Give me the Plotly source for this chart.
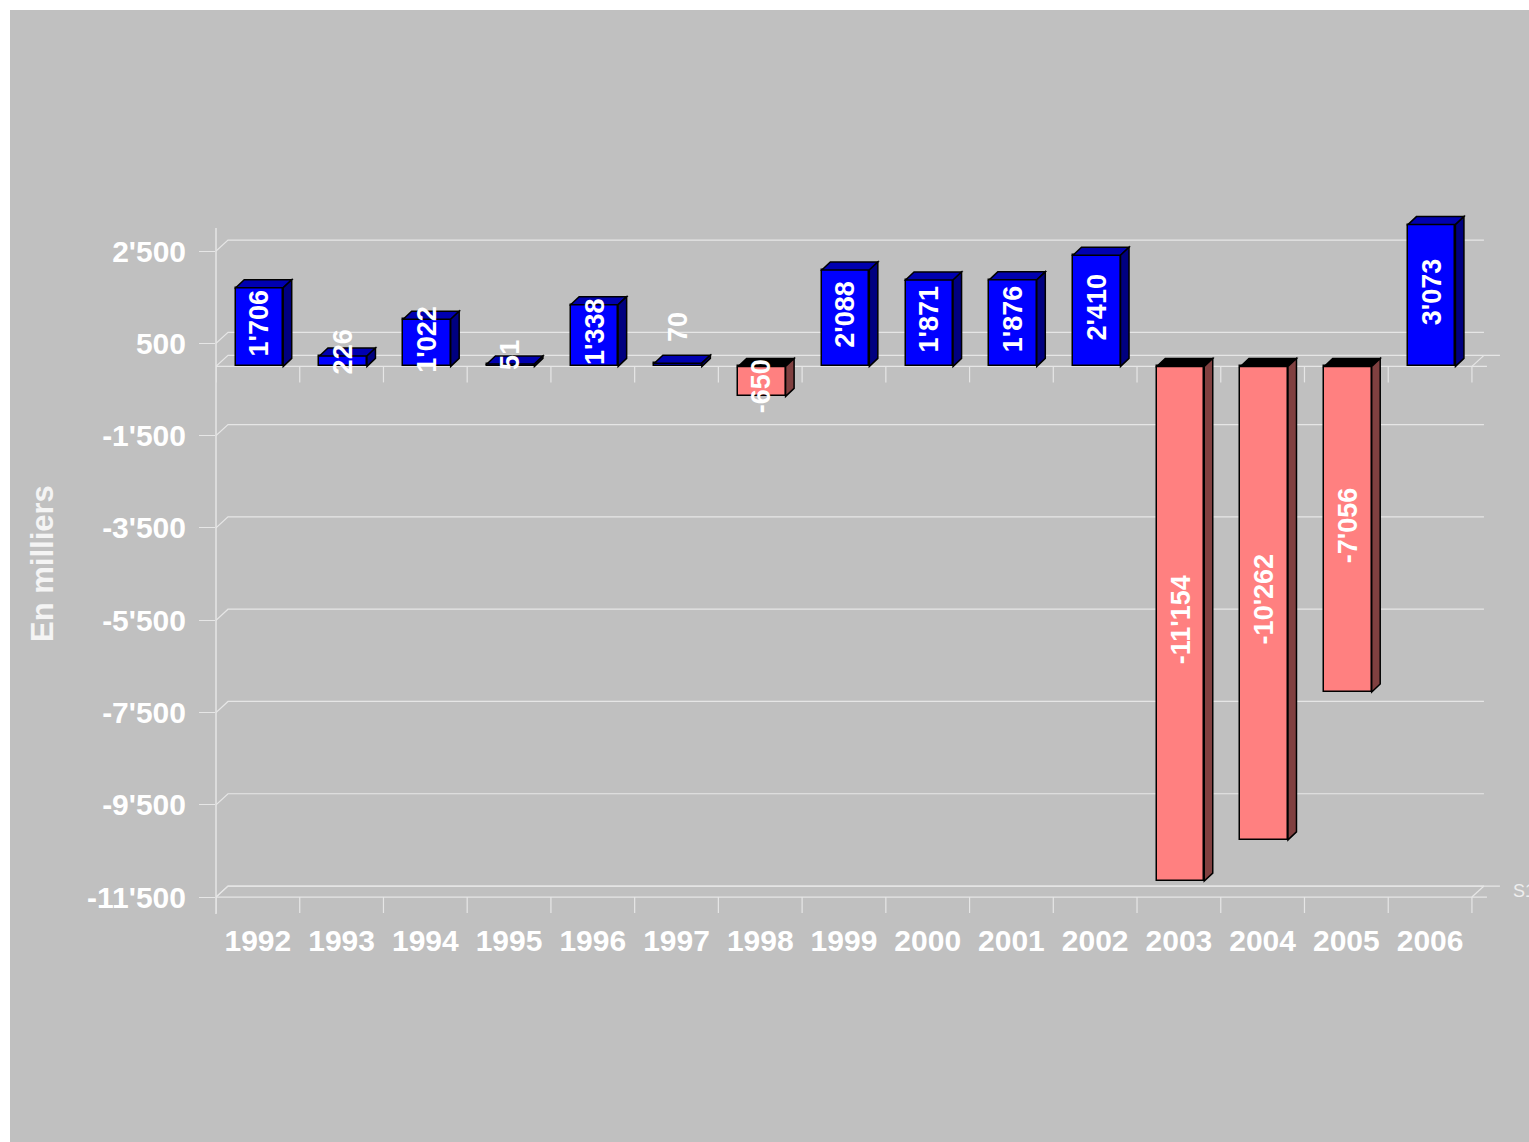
import plotly.graph_objects as go

# ---- data -------------------------------------------------------------
years = ["1992", "1993", "1994", "1995", "1996", "1997", "1998", "1999",
         "2000", "2001", "2002", "2003", "2004", "2005", "2006"]
values = [1706, 226, 1022, 51, 1338, 70, -650, 2088,
          1871, 1876, 2410, -11154, -10262, -7056, 3073]
y_ticks = [2500, 500, -1500, -3500, -5500, -7500, -9500, -11500]
series_name = "S1"
axis_title = "En milliers"


def swiss(v):
    """Format an integer with an apostrophe as thousands separator."""
    s = f"{abs(v):,}".replace(",", "'")
    return ("-" if v < 0 else "") + s


# ---- page geometry (pixels) -------------------------------------------
W, H = 1529, 1142
ML, MR, MT, MB = 216, 0, 150, 229
PW, PH = W - ML - MR, H - MT - MB
PLOT_BOTTOM = H - MB
CAT_PX = 83.73            # width of one category slot
ZERO_PX = 366.4           # vertical pixel of the value 0
PXU = 0.046143            # pixels per unit on the value axis

x_range = [-0.5, -0.5 + PW / CAT_PX]
y_range = [-(PLOT_BOTTOM - ZERO_PX) / PXU, (ZERO_PX - MT) / PXU]


def dx(px):
    return px / CAT_PX


def dy(px):
    return px / PXU


def paper_x(px):
    return (px - ML) / PW


def paper_y(py):
    return (PLOT_BOTTOM - py) / PH


# colours
BG = "#C0C0C0"
GRID = "#E6E6E6"
POS_FRONT, POS_TOP, POS_SIDE = "#0000FF", "#0000B0", "#000080"
NEG_FRONT, NEG_TOP, NEG_SIDE = "#FF8080", "#000000", "#804040"
FONT = "Arial, Liberation Sans, sans-serif"

# 3D depth of walls and bars
WALL_DX, WALL_DY = dx(12), dy(11)
BAR_DX, BAR_DY = dx(8.5), dy(8)
BAR_W = 47.5 / CAT_PX
BAR_SHIFT = dx(1.6)

idx = list(range(len(years)))
n = len(years)
left_edge, right_edge = -0.5, n - 0.5

shapes = []


def line_path(points, color=GRID, width=1.2, layer="below"):
    d = "M " + " L ".join(f"{x},{y}" for x, y in points)
    shapes.append(dict(type="path", path=d, xref="x", yref="y",
                       line=dict(color=color, width=width), layer=layer))


def face(points, fill):
    d = "M " + " L ".join(f"{x},{y}" for x, y in points) + " Z"
    shapes.append(dict(type="path", path=d, xref="x", yref="y",
                       fillcolor=fill, line=dict(color="black", width=1.5),
                       layer="above"))


# back-wall gridlines with the diagonal joining the value ticks
for v in y_ticks:
    line_path([(left_edge, v), (left_edge + WALL_DX, v + WALL_DY),
               (right_edge + WALL_DX, v + WALL_DY)])

# floors: the zero plane and the bottom plane
for v in (0, y_ticks[-1]):
    line_path([(left_edge, v), (left_edge + WALL_DX, v + WALL_DY),
               (right_edge + WALL_DX + dx(16), v + WALL_DY)])
    line_path([(left_edge, v), (right_edge + dx(15), v)])
    line_path([(right_edge, v), (right_edge + WALL_DX, v + WALL_DY)])
    # category tick marks hanging below each plane
    for k in range(n + 1):
        b = left_edge + k
        line_path([(b, v), (b, v - dy(16))])

# ---- bars: front faces ------------------------------------------------
front_colors = [POS_FRONT if v >= 0 else NEG_FRONT for v in values]
bars = go.Bar(
    x=idx, y=values, width=BAR_W, offset=-BAR_W / 2 + BAR_SHIFT,
    marker=dict(color=front_colors, line=dict(color="black", width=1.5)),
    hoverinfo="x+y", showlegend=False,
)

# top and side faces give every bar its depth
for i, v in zip(idx, values):
    x0 = i - BAR_W / 2 + BAR_SHIFT
    x1 = x0 + BAR_W
    top = max(v, 0)
    bottom = min(v, 0)
    top_col = POS_TOP if v >= 0 else NEG_TOP
    side_col = POS_SIDE if v >= 0 else NEG_SIDE
    face([(x0, top), (x1, top), (x1 + BAR_DX, top + BAR_DY),
          (x0 + BAR_DX, top + BAR_DY)], top_col)
    face([(x1, bottom), (x1, top), (x1 + BAR_DX, top + BAR_DY),
          (x1 + BAR_DX, bottom + BAR_DY)], side_col)

# value axis line and white page border
shapes.append(dict(type="line", xref="paper", yref="paper",
                   x0=0, x1=0, y0=paper_y(914), y1=paper_y(228),
                   line=dict(color=GRID, width=1.5), layer="above"))
shapes.append(dict(type="rect", xref="paper", yref="paper",
                   x0=paper_x(0), x1=paper_x(10), y0=paper_y(H), y1=paper_y(0),
                   fillcolor="white", line=dict(width=0), layer="above"))
shapes.append(dict(type="rect", xref="paper", yref="paper",
                   x0=paper_x(0), x1=paper_x(W), y0=paper_y(10), y1=paper_y(0),
                   fillcolor="white", line=dict(width=0), layer="above"))

# ---- annotations ------------------------------------------------------
label_nudge = {"1993": 5, "1995": 6, "1997": 34, "1998": -9}
annotations = []
for i, (yr, v) in enumerate(zip(years, values)):
    annotations.append(dict(
        x=i + BAR_SHIFT, y=v / 2, xref="x", yref="y", text=swiss(v),
        textangle=-90, showarrow=False, xanchor="center", yanchor="middle",
        yshift=4 + label_nudge.get(yr, 0),
        font=dict(family=FONT, size=27, color="white", weight="bold"),
    ))

annotations.append(dict(
    x=paper_x(42), y=paper_y(564), xref="paper", yref="paper",
    text=axis_title, textangle=-90, showarrow=False,
    xanchor="center", yanchor="middle",
    font=dict(family=FONT, size=31, color="#F4F4F4", weight="bold"),
))
annotations.append(dict(
    x=paper_x(1511), y=paper_y(891), xref="paper", yref="paper",
    text=series_name, showarrow=False, xanchor="left", yanchor="middle",
    font=dict(family=FONT, size=18, color="#EEEEEE"),
))

fig = go.Figure(bars)
fig.update_layout(
    width=W, height=H,
    margin=dict(l=ML, r=MR, t=MT, b=MB, pad=0),
    paper_bgcolor=BG, plot_bgcolor="rgba(0,0,0,0)",
    shapes=shapes, annotations=annotations,
    bargap=0,
    xaxis=dict(
        range=x_range, tickmode="array", tickvals=idx, ticktext=years,
        ticks="", showgrid=False, zeroline=False, showline=False,
        tickfont=dict(family=FONT, size=30, color="white", weight="bold"),
        ticklabelstandoff=7, fixedrange=True,
    ),
    yaxis=dict(
        range=y_range, tickmode="array", tickvals=y_ticks,
        ticktext=[swiss(t) for t in y_ticks],
        ticks="outside", ticklen=16, tickwidth=1.2, tickcolor=GRID,
        showgrid=False, zeroline=False, showline=False,
        tickfont=dict(family=FONT, size=30, color="white", weight="bold"),
        ticklabelstandoff=7, fixedrange=True,
    ),
)

fig.write_html("out.html")
